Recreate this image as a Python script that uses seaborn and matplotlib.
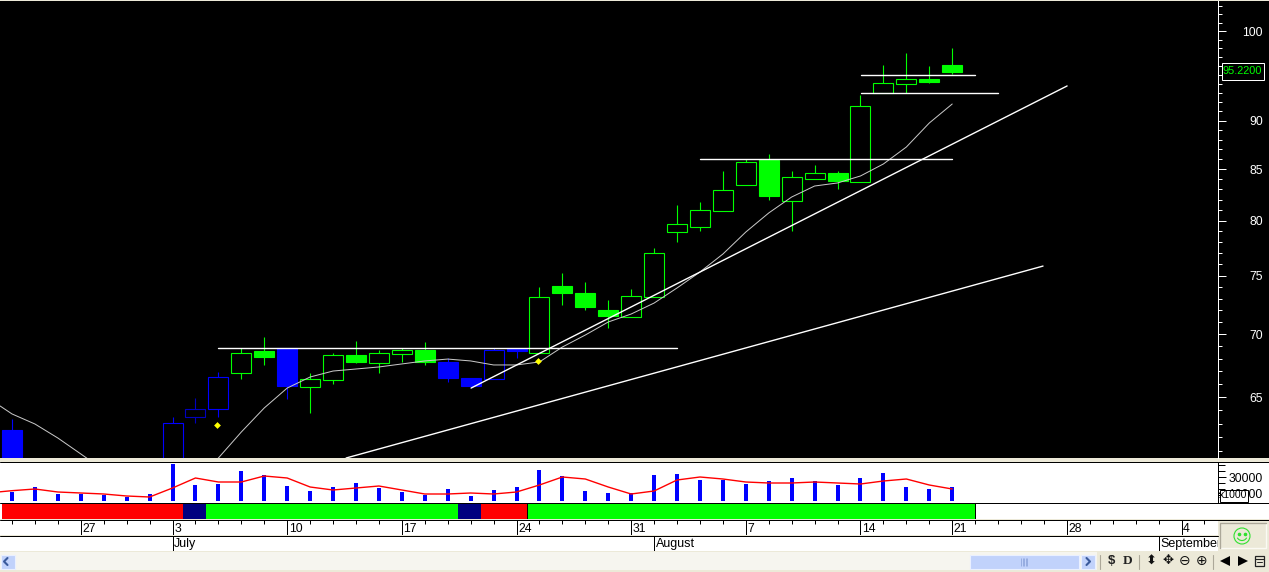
import numpy as np
import pandas as pd
import matplotlib
matplotlib.use("Agg")
import matplotlib.pyplot as plt
from matplotlib.patches import Rectangle, Circle, Arc
from matplotlib.ticker import NullFormatter
import seaborn as sns

# ---------- data ----------
candle_days = [0, 7, 8, 9, 10, 11, 12, 13, 14, 15, 16, 17, 18, 19, 20, 21, 22, 23, 24, 25, 26,
               27, 28, 29, 30, 31, 32, 33, 34, 35, 36, 37, 38, 39, 40, 41]
highs = [63.35, 63.50, 64.94, 66.95, 68.87, 69.77, 68.87, 66.87, 68.47, 69.44, 68.71, 68.87, 69.36,
         68.07, 66.48, 68.87, 68.79, 74.00, 75.22, 74.43, 72.87, 73.82, 77.47, 81.49, 81.78,
         84.81, 86.02, 86.53, 84.81, 85.41, 84.81, 92.75, 96.08, 97.44, 95.97, 98.02]
body_tops = [62.54, 63.05, 64.10, 66.56, 68.47, 68.63, 68.87, 66.40, 68.31, 68.31, 68.47, 68.71, 68.71,
             67.75, 66.48, 68.71, 68.79, 73.13, 74.08, 73.47, 72.02, 73.21, 77.01, 79.69, 81.01,
             82.93, 85.72, 85.92, 84.22, 84.61, 84.61, 91.55, 94.07, 94.51, 94.51, 96.08]
body_bots = [60.00, 60.00, 63.50, 64.10, 66.87, 68.15, 65.86, 65.78, 66.33, 67.75, 67.67, 68.39, 67.75,
             66.48, 65.86, 66.40, 68.63, 68.47, 73.47, 72.27, 71.51, 71.43, 73.13, 78.94, 79.41,
             80.92, 83.43, 82.36, 81.87, 84.02, 83.82, 83.72, 92.97, 93.96, 94.18, 95.29]
lows = [60.00, 60.00, 63.05, 63.50, 66.40, 67.51, 64.86, 63.80, 66.02, 67.67, 66.87, 67.75, 67.51,
        66.17, 65.86, 66.40, 68.07, 68.47, 72.44, 72.02, 70.51, 71.43, 73.13, 78.01, 79.03,
        80.92, 83.43, 81.97, 79.03, 84.02, 83.04, 83.72, 92.97, 92.97, 94.07, 95.07]
candle_colors = ["b", "b", "n", "b", "g", "g", "b", "g", "g", "g", "g", "g", "g", "b", "b", "b", "b", "g", "g", "g", "g",
                 "g", "g", "g", "g", "g", "g", "g", "g", "g", "g", "g", "g", "g", "g", "g"]
candle_filled = [1, 0, 0, 0, 0, 1, 1, 0, 0, 1, 0, 0, 1, 1, 1, 0, 1, 0, 1, 1, 1,
                 0, 0, 0, 0, 0, 0, 1, 0, 0, 1, 0, 0, 0, 1, 1]

ma_days = [-0.52] + list(range(42))
ma_values = [64.33, 63.73, 62.98, 61.95, 60.80, 59.66, 58.97, 58.63, 58.63, 59.10, 60.51, 62.39, 64.18,
             65.70, 66.56, 67.03, 67.19, 67.35, 67.59, 67.83, 67.98, 67.83, 67.51, 67.51, 67.75,
             68.95, 69.93, 71.01, 71.68, 72.61, 73.91, 75.31, 76.92, 78.94, 80.73, 82.26, 83.33,
             83.63, 84.32, 85.52, 87.24, 89.74, 91.77]

trend_x = [[14.57, 44.96], [20.02, 46.01], [8.98, 29.0], [30.0, 41.0], [37.03, 43.0], [37.03, 42.0]]
trend_y = [[60.51, 75.84], [65.70, 93.74], [68.87, 68.87], [86.02, 86.02], [92.97, 92.97], [94.96, 94.96]]
signal_days = [8.94, 22.94]
signal_prices = [62.90, 67.83]

vol_days = list(range(42))
volumes = [11250, 17500, 8750, 8750, 7500, 5000, 8750, 46250, 20000, 21250, 37500, 32500, 18750, 12500,
           17500, 22500, 16250, 11250, 7500, 15000, 6250, 13750, 17500, 38750, 31250, 12500, 10000,
           10000, 32500, 33750, 26250, 26250, 21250, 25000, 28750, 25000, 20000, 28750, 35000, 17500,
           15000, 17500]
vol_ma_days = [-0.52] + vol_days
vol_ma = [11500, 12900, 15000, 11250, 10000, 8750, 6250, 5000, 16250, 28750, 23750, 23750, 31250, 28750,
          17500, 13750, 16250, 18750, 13750, 8750, 8750, 10000, 8750, 11250, 20000, 30000, 27500,
          17500, 8750, 12500, 26250, 30000, 27500, 23750, 22500, 22500, 23750, 22500, 21250, 25000,
          27500, 20000, 15000]

strip_edges = [-0.44, 7.46, 8.46, 19.46, 20.46, 22.46, 42.0]
strip_colors = ["#FF0000", "#000080", "#00FF00", "#000080", "#FF0000", "#00FF00"]

date_ticks = [3, 7, 12, 17, 22, 27, 32, 37, 41, 46, 51]
date_labels = ["27", "3", "10", "17", "24", "31", "7", "14", "21", "28", "4"]
month_ticks = [7, 28, 50]
month_labels = ["July", "August", "September"]

price_major = [65, 70, 75, 80, 85, 90, 95, 100]
price_major_labels = ["65", "70", "75", "80", "85", "90", "", "100"]  # 95 sits under the last-price box
price_minor = list(range(61, 104))
last_price = "95.2200"
vol_major = [10000, 30000]
vol_major_labels = ["10000", "30000"]
vol_minor = [7500, 15000, 22500, 37500, 45000]

# ---------- layout helpers ----------
W, H = 1269, 572
sns.set_style("white")
plt.rcParams["font.family"] = ["Liberation Sans", "DejaVu Sans"]
BEIGE = "#ECE9D8"
GREEN = "#00FF00"
BLUE = "#0000FF"
PALETTE = {"g": GREEN, "b": BLUE, "n": "#0000C0"}
fig = plt.figure(figsize=(W / 100, H / 100), dpi=100, facecolor=BEIGE)


def px_axes(x0, y0, x1, y1, **kw):
    return fig.add_axes([x0 / W, 1 - y1 / H, (x1 - x0) / W, (y1 - y0) / H], **kw)


PX = 0.72  # one pixel in points
LW = 0.8
XLIM = (-0.523, 52.59)

# background panels, behind all data axes
bg = fig.add_axes([0, 0, 1, 1], facecolor="none", zorder=-5)
bg.set_xlim(0, W)
bg.set_ylim(H, 0)
bg.axis("off")
bg.add_patch(Rectangle((0, 1), W, 457, facecolor="black", linewidth=0))
bg.add_patch(Rectangle((0, 462), W, 57, facecolor="white", linewidth=0))

# ---------- main price panel ----------
ax = px_axes(0, 1, 1218, 458, facecolor="black")
ax.set_yscale("log")
for d, hi, top, bot, lo, c, f in zip(candle_days, highs, body_tops, body_bots, lows, candle_colors, candle_filled):
    col = PALETTE[c]
    ax.vlines(d, top, hi, color=col, lw=LW, zorder=2)
    ax.vlines(d, lo, bot, color=col, lw=LW, zorder=2)
    ax.bar(d, top - bot, bottom=bot, width=20 / 22.93, facecolor=col if f else "none",
           edgecolor=col, linewidth=LW, zorder=2)

sns.lineplot(x=ma_days, y=ma_values, ax=ax, color="#C8C8C8", lw=PX, zorder=3, estimator=None, sort=False)
for xs, ys in zip(trend_x, trend_y):
    sns.lineplot(x=xs, y=ys, ax=ax, color="white", lw=1.0, zorder=4, estimator=None, sort=False)
sns.scatterplot(x=signal_days, y=signal_prices, ax=ax, color="#FFFF00", marker="D", s=12,
                linewidth=0, zorder=5)

ax.set_xlim(*XLIM)
ax.set_ylim(100 * np.exp(-427 / 850), 100 * np.exp(30 / 850))
ax.set_xticks([])
ax.yaxis.tick_right()
ax.set_yticks(price_major, labels=price_major_labels)
ax.set_yticks(price_minor, minor=True)
ax.yaxis.set_minor_formatter(NullFormatter())
ax.tick_params(axis="y", which="major", length=8 * PX, width=PX, color="white", labelcolor="white",
               labelsize=8.8, pad=26.5, right=True)
ax.tick_params(axis="y", which="minor", length=4 * PX, width=PX, color="white", right=True)
for lab in ax.get_yticklabels():
    lab.set_ha("right")
for s in ["top", "left", "bottom"]:
    ax.spines[s].set_visible(False)
ax.spines["right"].set_color("white")
ax.spines["right"].set_linewidth(PX)
ax.grid(False)
ax.set_xlabel("")
ax.set_ylabel("")

# ---------- volume panel ----------
vx = px_axes(0, 462, 1218, 502, facecolor="white")
sns.barplot(x=vol_days, y=volumes, ax=vx, native_scale=True, color=BLUE, saturation=1,
            width=4 / 22.93, linewidth=0, zorder=2)
sns.lineplot(x=vol_ma_days, y=vol_ma, ax=vx, color="#FF0000", lw=1.0, zorder=3, estimator=None, sort=False)
vx.set_xlim(*XLIM)
vx.set_ylim(-1250, 48750)
vx.set_xticks([])
vx.yaxis.tick_right()
vx.set_yticks(vol_major, labels=vol_major_labels)
vx.set_yticks(vol_minor, minor=True)
vx.yaxis.set_minor_formatter(NullFormatter())
vx.tick_params(axis="y", which="major", length=8 * PX, width=PX, color="black", labelcolor="black",
               labelsize=8.8, pad=26.5, right=True)
vx.tick_params(axis="y", which="minor", length=7 * PX, width=PX, color="black", right=True)
for lab in vx.get_yticklabels():
    lab.set_ha("right")
for s in ["top", "left", "bottom"]:
    vx.spines[s].set_visible(False)
vx.spines["right"].set_linewidth(PX)
vx.spines["right"].set_color("black")
vx.grid(False)
vx.set_xlabel("")
vx.set_ylabel("")

# ---------- state strip ----------
sx = px_axes(0, 503, 1218, 519, facecolor="white")
spans = [(a, b - a) for a, b in zip(strip_edges[:-1], strip_edges[1:])]
sx.broken_barh(spans, (0, 1), facecolors=strip_colors, linewidth=0)
sx.vlines(strip_edges[-1], 0, 1, color="black", lw=PX)
sx.vlines(strip_edges[5], 0, 1, color="black", lw=PX)
sx.set_xlim(*XLIM)
sx.set_ylim(0, 1)
sx.set_xticks([])
sx.set_yticks([])
for s in sx.spines.values():
    s.set_visible(False)

# ---------- date rows ----------
dx = px_axes(0, 520, 1218, 535, facecolor="white")
dx.set_xlim(*XLIM)
dx.set_ylim(1, 0)
dx.vlines(np.arange(0, 53), 0, 0.27, color="black", lw=PX)
dx.vlines(date_ticks, 0, 1, color="black", lw=PX)
for d, t in zip(date_ticks, date_labels):
    dx.text(d + 0.07, 0.58, t, fontsize=8.8, va="center", ha="left", color="black", clip_on=True)
dx.set_xticks([])
dx.set_yticks([])
for s in dx.spines.values():
    s.set_visible(False)

mx = px_axes(0, 536, 1218, 551, facecolor="white")
mx.set_xlim(*XLIM)
mx.set_ylim(1, 0)
mx.vlines(month_ticks, 0, 1, color="black", lw=PX)
for d, t in zip(month_ticks, month_labels):
    mx.text(d + 0.07, 0.52, t, fontsize=9, va="center", ha="left", color="black", clip_on=True)
mx.set_xticks([])
mx.set_yticks([])
for s in mx.spines.values():
    s.set_visible(False)

# ---------- window chrome in pixel space ----------
ui = fig.add_axes([0, 0, 1, 1], facecolor="none", zorder=20)
ui.set_xlim(0, W)
ui.set_ylim(H, 0)
ui.axis("off")


def rect(x0, y0, x1, y1, fc, ec="none", lw=0, z=1):
    ui.add_patch(Rectangle((x0, y0), x1 - x0, y1 - y0, facecolor=fc, edgecolor=ec, linewidth=lw, zorder=z))


for y in (461, 502, 519, 535):
    ui.plot([0, W if y != 535 else 1218], [y + 0.5, y + 0.5], color="black", lw=PX, zorder=2)
rect(1219.5, 489.5, 1247.5, 501.5, "white", ec="black", lw=PX, z=4)
ui.text(1233.5, 495.5, "x1000", fontsize=7.6, ha="center", va="center", color="black", zorder=5)
# last price box
rect(1221.5, 62.5, 1263.5, 79.5, "black", ec="white", lw=PX, z=4)
ui.text(1242.5, 71, last_price, fontsize=7.9, ha="center", va="center", color=GREEN, zorder=5)
# smiley box
rect(1220, 523, 1266, 548, BEIGE, ec="#FBFAF4", lw=1, z=2)
ui.plot([1220, 1220, 1266], [548, 523, 523], color="#ACA899", lw=1, zorder=3)
ui.add_patch(Circle((1242, 536), 8, facecolor="none", edgecolor="#2FE02F", lw=0.8, zorder=4))
ui.plot([1239, 1245], [533.5, 533.5], ls="none", marker="o", ms=1.6, color="#2FE02F", zorder=4)
ui.add_patch(Arc((1242, 536), 10, 9, theta1=20, theta2=160, edgecolor="#2FE02F", lw=0.8, zorder=4))
# bottom scroll bar
rect(0, 552, 1097, 570, "#F6F5EF", z=1)
rect(0, 570, 1097, H, BEIGE, z=1)
for a, b in ((1, 15), (970, 1079), (1081, 1095)):
    rect(a, 554.5, b, 569, "#C1D2FB", ec="#EAF0FF", lw=0.8, z=2)
ui.plot([7.5, 4, 7.5], [558, 561.5, 565], color="#3A5A9B", lw=1.5, zorder=3)
ui.plot([1086.5, 1090, 1086.5], [558, 561.5, 565], color="#3A5A9B", lw=1.5, zorder=3)
ui.vlines(np.arange(1021, 1029, 1.6), 558, 566, color="#8FA6DD", lw=0.6, zorder=3)
for x in (1100, 1139, 1213):
    ui.plot([x, x], [555, 569], color="#ACA899", lw=0.8, zorder=3)
ui.text(1111, 561, "$", fontsize=9.5, fontweight="bold", ha="center", va="center", color="#222222", zorder=3)
ui.text(1128, 561, "D", fontsize=9.5, fontweight="bold", family="Liberation Serif", ha="center", va="center",
        color="#222222", zorder=3)
ui.text(1151, 561, "\u2b0d", fontsize=9.5, family="DejaVu Sans", ha="center", va="center", color="#111111", zorder=3)
ui.text(1168, 561, "\u2725", fontsize=9.5, family="DejaVu Sans", ha="center", va="center", color="#111111", zorder=3)
ui.text(1185, 561, "\u2296", fontsize=10, family="DejaVu Sans", ha="center", va="center", color="#111111", zorder=3)
ui.text(1202, 561, "\u2295", fontsize=10, family="DejaVu Sans", ha="center", va="center", color="#111111", zorder=3)
ui.plot([1225], [561], marker="<", ms=7, color="black", mew=0, zorder=3)
ui.plot([1242.5], [561], marker=">", ms=7, color="black", mew=0, zorder=3)
rect(1255, 556, 1264, 566, "none", ec="#222222", lw=0.9, z=3)
ui.plot([1255, 1264], [559, 559], color="#222222", lw=0.8, zorder=3)
ui.plot([1257, 1262], [562, 562], color="#222222", lw=0.7, zorder=3)

fig.savefig("out.png", dpi=100, facecolor=BEIGE)
